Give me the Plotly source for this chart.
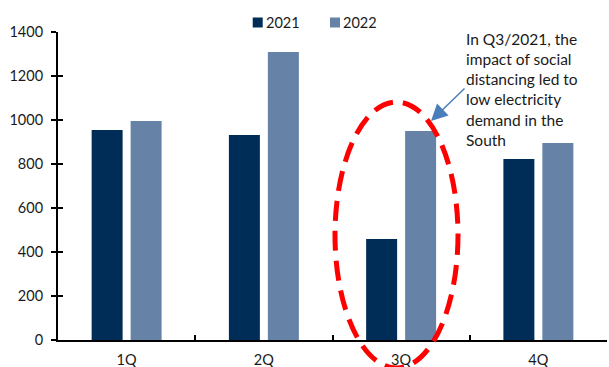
import plotly.graph_objects as go

quarters = ["1Q", "2Q", "3Q", "4Q"]
demand_2021 = [954, 932, 459, 823]
demand_2022 = [995, 1309, 950, 896]
series_names = ["2021", "2022"]
colors = ["#002D57", "#6682A7"]

W, H = 609, 367
L, R, T, B = 58, 2, 32, 27
PW, PH = W - L - R, H - T - B


def px(xp):
    return (xp - L) / PW


def py(yp):
    return (H - B - yp) / PH


FONT = "Lato"
TXT = "#1a1a1a"

fig = go.Figure()
fig.add_trace(go.Bar(x=quarters, y=demand_2021, name=series_names[0],
                     marker=dict(color=colors[0], line=dict(width=0))))
fig.add_trace(go.Bar(x=quarters, y=demand_2022, name=series_names[1],
                     marker=dict(color=colors[1], line=dict(width=0))))
# invisible trace to host the inner-tick overlay axis
fig.add_trace(go.Scatter(x=quarters[:1], y=[0], yaxis="y2", mode="markers",
                         marker=dict(opacity=0), showlegend=False, hoverinfo="skip"))

fig.update_layout(
    width=W, height=H,
    margin=dict(l=L, r=R, t=T, b=B),
    paper_bgcolor="white", plot_bgcolor="white",
    barmode="group", bargap=0.432, bargroupgap=0.205,
    showlegend=False,
    font=dict(family=FONT, size=14, color=TXT),
    xaxis=dict(showgrid=False, showline=True, linecolor="black", linewidth=2,
               ticks="inside", tickson="boundaries", ticklen=5, tickwidth=1.5,
               tickcolor="black", tickfont=dict(size=14.5, color=TXT),
               ticklabelstandoff=6, zeroline=False, automargin=False),
    yaxis=dict(range=[0, 1400], dtick=200, showgrid=False, showline=True,
               linecolor="black", linewidth=2, ticks="outside", ticklen=5,
               tickwidth=1.5, tickcolor="black", zeroline=False,
               tickfont=dict(size=14.5, color=TXT), ticklabelstandoff=5,
               automargin=False),
    yaxis2=dict(range=[0, 1400], dtick=200, overlaying="y", side="left",
                showgrid=False, showline=False, ticks="inside", ticklen=5,
                tickwidth=1.5, tickcolor="black", showticklabels=False,
                zeroline=False, automargin=False),
)

# custom legend
legend_items = [(252.7, 265.5), (330.0, 343.3)]
for (sq_x, tx_x), name, col in zip(legend_items, series_names, colors):
    fig.add_shape(type="rect", xref="paper", yref="paper",
                  x0=px(sq_x), x1=px(sq_x + 10), y0=py(27.5), y1=py(17.5),
                  fillcolor=col, line=dict(width=0))
    fig.add_annotation(xref="paper", yref="paper", x=px(tx_x), y=py(22.5),
                       xanchor="left", yanchor="middle", text=name,
                       showarrow=False, font=dict(size=14.5, color=TXT),
                       borderpad=0, borderwidth=0)

# red dashed ellipse
fig.add_shape(type="circle", xref="paper", yref="paper",
              x0=px(335), x1=px(458), y0=py(368), y1=py(102),
              line=dict(color="#FF0000", width=5, dash="20px,10px"),
              fillcolor="rgba(0,0,0,0)", layer="above")

# callout text
fig.add_annotation(xref="paper", yref="paper", x=px(466), y=py(30),
                   xanchor="left", yanchor="top", align="left",
                   text="In Q3/2021, the<br>impact of social<br>distancing led to<br>low electricity<br>demand in the<br>South",
                   showarrow=False, font=dict(size=15.5, color=TXT),
                   borderpad=0, borderwidth=0)

# arrow
fig.add_annotation(xref="paper", yref="paper", x=px(431), y=py(121),
                   ax=35, ay=-34, text="", showarrow=True,
                   arrowhead=2, arrowsize=2.2, arrowwidth=1.5,
                   arrowcolor="#4A7EBB")

fig.write_html("out.html")
